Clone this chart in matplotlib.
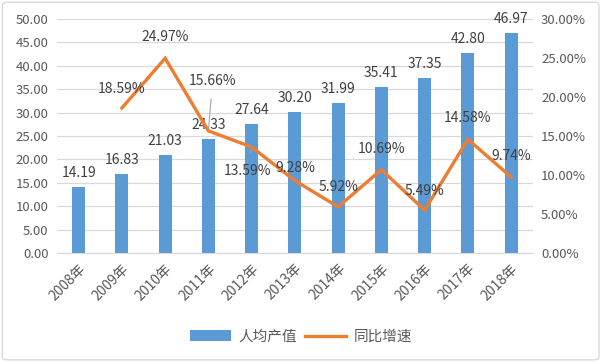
import matplotlib
matplotlib.use("Agg")
import matplotlib.pyplot as plt
from matplotlib.patches import FancyBboxPatch

plt.rcParams['font.family'] = ['Noto Sans CJK SC', 'DejaVu Sans']

years = ['2008年', '2009年', '2010年', '2011年', '2012年', '2013年',
         '2014年', '2015年', '2016年', '2017年', '2018年']
output_per_capita = [14.19, 16.83, 21.03, 24.33, 27.64, 30.20,
                     31.99, 35.41, 37.35, 42.80, 46.97]
growth_years = years[1:]
growth_rate = [18.59, 24.97, 15.66, 13.59, 9.28, 5.92, 10.69, 5.49, 14.58, 9.74]

# label offsets for the growth line (points), tuned by eye
growth_offsets = [(0, 14), (0, 15), (3, 36), (-3, -17), (0, 9),
                  (0, 14), (0, 15), (0, 14), (0, 15), (0, 15)]

bar_color = '#5B9BD5'
line_color = '#ED7D31'
text_color = '#404040'
tick_color = '#595959'

fig = plt.figure(figsize=(6.02, 3.62), dpi=100)
ax = fig.add_axes([0.0947, 0.301, 0.7903, 0.6465])
ax2 = ax.twinx()

x = list(range(len(years)))
ax.bar(x, output_per_capita, width=0.3, color=bar_color, zorder=2, label='人均产值')
ax.set_xlim(-0.5, len(years) - 0.5)
ax.set_ylim(0, 50)
ax.set_yticks([i * 5 for i in range(11)])
ax.set_yticklabels([f'{i * 5:.2f}' for i in range(11)])
ax.grid(axis='y', color='#d9d9d9', linewidth=0.9, zorder=0)
ax.set_axisbelow(True)

for xi, v in zip(x, output_per_capita):
    ax.annotate(f'{v:.2f}', (xi, v), xytext=(0, 5), textcoords='offset points',
                ha='center', va='bottom', fontsize=10, color=text_color)

gx = x[1:]
line, = ax2.plot(gx, growth_rate, color=line_color, linewidth=2.4,
                 solid_joinstyle='miter', zorder=3, label='同比增速')
ax2.set_ylim(0, 30)
ax2.set_yticks([i * 5 for i in range(7)])
ax2.set_yticklabels([f'{i * 5:.2f}%' for i in range(7)])

for i, (xi, v) in enumerate(zip(gx, growth_rate)):
    dx, dy = growth_offsets[i]
    if i in (2, 3):
        ax2.annotate(f'{v:.2f}%', (xi, v), xytext=(dx, dy), textcoords='offset points',
                     ha='center', va='center', fontsize=10, color=text_color,
                     arrowprops=dict(arrowstyle='-', color='#a6a6a6', lw=0.8,
                                     shrinkA=6, shrinkB=2))
    else:
        ax2.annotate(f'{v:.2f}%', (xi, v), xytext=(dx, dy), textcoords='offset points',
                     ha='center', va='center', fontsize=10, color=text_color)

for a in (ax, ax2):
    for s in a.spines.values():
        s.set_visible(False)
    a.tick_params(length=0, labelsize=9.5, labelcolor=tick_color)
ax.spines['bottom'].set_visible(True)
ax.spines['bottom'].set_color('#d9d9d9')

ax.set_xticks(x)
ax.set_xticklabels(years, rotation=45, ha='right', rotation_mode='anchor', fontsize=10)
ax.tick_params(axis='x', pad=6)
ax.tick_params(axis='y', pad=6)
ax2.tick_params(axis='y', pad=6)

handles = [ax.patches[0], line]
fig.legend(handles, ['人均产值', '同比增速'], loc='center', bbox_to_anchor=(0.5, 0.07),
           ncol=2, frameon=False, fontsize=10.5, handlelength=2.8, columnspacing=0.6,
           handletextpad=0.5, labelcolor=tick_color)

fig.patches.append(FancyBboxPatch((0.004, 0.006), 0.991, 0.988,
                                  boxstyle='round,pad=0,rounding_size=0.008',
                                  transform=fig.transFigure, fill=False,
                                  edgecolor='#d9d9d9', linewidth=1))

fig.savefig('out.png', dpi=100)
